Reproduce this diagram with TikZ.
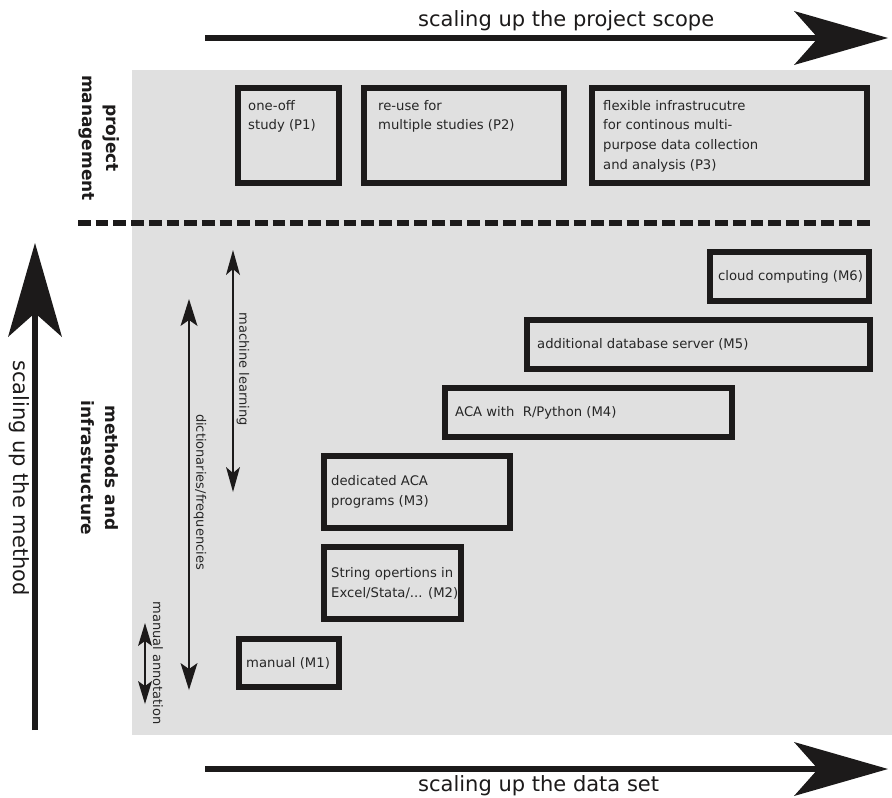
\documentclass[tikz,border=0pt]{standalone}
\usepackage{fontspec}
\setmainfont{DejaVu Sans}
\usetikzlibrary{arrows.meta}
\definecolor{panel}{HTML}{E0E0E0}
\definecolor{ink}{HTML}{1C1A1A}
\definecolor{txt}{HTML}{262626}
\begin{document}
\begin{tikzpicture}[x=1pt,y=-1pt,
  box/.style={draw=ink, line width=6pt, fill=panel, inner sep=0pt, outer sep=0pt, anchor=north west},
  btext/.style={text=txt, font=\fontsize{13.2}{19.7}\selectfont, align=left, inner sep=0pt},
  vlbl/.style={text=txt, font=\fontsize{13}{15}\selectfont, inner sep=0pt, rotate=-90},
  biglbl/.style={text=ink, font=\fontsize{21}{25}\selectfont, inner sep=0pt},
  sect/.style={text=ink, font=\fontsize{17}{24}\bfseries\selectfont, inner sep=0pt, rotate=-90, align=center},
  bigarrow/.style={draw=ink, line width=6pt, -{Stealth[length=94pt,width=54pt,inset=24pt,line width=0pt]}},
  dbl/.style={draw=ink, line width=2pt, {Stealth[length=25pt,width=14pt,inset=6pt,line width=0pt]}-{Stealth[length=25pt,width=14pt,inset=6pt,line width=0pt]}},
  sep/.style={draw=ink, line width=6pt, dash pattern=on 12.7pt off 5pt}
]
\useasboundingbox (0,0) rectangle (892,798);
\fill[white] (0,0) rectangle (892,798);
% panel
\fill[panel] (132,70) rectangle (892,735);

% separator
\coordinate (d1) at (78,223);
\coordinate (d2) at (870,223);
\draw[sep] (d1) -- (d2);

% big arrows
\coordinate (ta) at (205,38);
\coordinate (tb) at (888,38);
\draw[bigarrow] (ta) -- (tb);
\coordinate (ba) at (205,769);
\coordinate (bb) at (888,769);
\draw[bigarrow] (ba) -- (bb);
\coordinate (la) at (35,730);
\coordinate (lb) at (35,243);
\draw[bigarrow] (la) -- (lb);

\node[biglbl, anchor=base west] (tl) at (418,26) {scaling up the project scope};
\node[biglbl, anchor=base west] (bl) at (418,791) {scaling up the data set};
\node[biglbl, rotate=-90] (ll) at (19,478) {scaling up the method};

% section labels
\node[sect] (pm) at (99,138) {project\\management};
\node[sect] (mi) at (100,468) {methods and\\infrastructure};

% double arrows
\coordinate (ml1) at (233,250);
\coordinate (ml2) at (233,492);
\draw[dbl] (ml1) -- (ml2);
\node[vlbl] (mlt) at (243,369) {machine learning};
\coordinate (df1) at (189,299);
\coordinate (df2) at (189,690);
\draw[dbl, {Stealth[length=27pt,width=17pt,inset=6pt,line width=0pt]}-{Stealth[length=27pt,width=17pt,inset=6pt,line width=0pt]}] (df1) -- (df2);
\node[vlbl] (dft) at (200,492) {dictionaries/frequencies};
\coordinate (ma1) at (145,623);
\coordinate (ma2) at (145,704);
\draw[dbl, {Stealth[length=23pt,width=14pt,inset=5pt,line width=0pt]}-{Stealth[length=23pt,width=14pt,inset=5pt,line width=0pt]}] (ma1) -- (ma2);
\node[vlbl] (mat) at (158,663) {manual annotation};

% project boxes
\node[box, minimum width=101pt, minimum height=95pt] (p1) at (238,88) {};
\node[btext, anchor=north west] (p1t) at ([xshift=10pt,yshift=-12pt]p1.north west) {one-off\\study (P1)};
\node[box, minimum width=200pt, minimum height=95pt] (p2) at (364,88) {};
\node[btext, anchor=north west] (p2t) at ([xshift=14pt,yshift=-12pt]p2.north west) {re-use for\\multiple studies (P2)};
\node[box, minimum width=275pt, minimum height=95pt] (p3) at (592,88) {};
\node[btext, anchor=north west] (p3t) at ([xshift=11pt,yshift=-12pt]p3.north west) {flexible infrastrucutre\\for continous multi-\\purpose data collection\\and analysis (P3)};

% method boxes
\node[box, minimum width=159pt, minimum height=49pt] (m6) at (710,252) {};
\node[btext, anchor=west] (m6t) at ([xshift=8pt]m6.west) {cloud computing (M6)};
\node[box, minimum width=343pt, minimum height=49pt] (m5) at (527,320) {};
\node[btext, anchor=west] (m5t) at ([xshift=10pt]m5.west) {additional database server (M5)};
\node[box, minimum width=287pt, minimum height=49pt] (m4) at (445,388) {};
\node[btext, anchor=west] (m4t) at ([xshift=10pt]m4.west) {ACA with \ R/Python (M4)};
\node[box, minimum width=186pt, minimum height=72pt] (m3) at (324,456) {};
\node[btext, anchor=west] (m3t) at ([xshift=7pt]m3.west) {dedicated ACA\\programs (M3)};
\node[box, minimum width=137pt, minimum height=72pt] (m2) at (324,547) {};
\node[btext, anchor=west] (m2t) at ([xshift=7pt]m2.west) {String opertions in\\Excel/Stata/... (M2)};
\node[box, minimum width=100pt, minimum height=48pt] (m1) at (239,639) {};
\node[btext, anchor=west] (m1t) at ([xshift=7pt]m1.west) {manual (M1)};
\end{tikzpicture}
\end{document}
